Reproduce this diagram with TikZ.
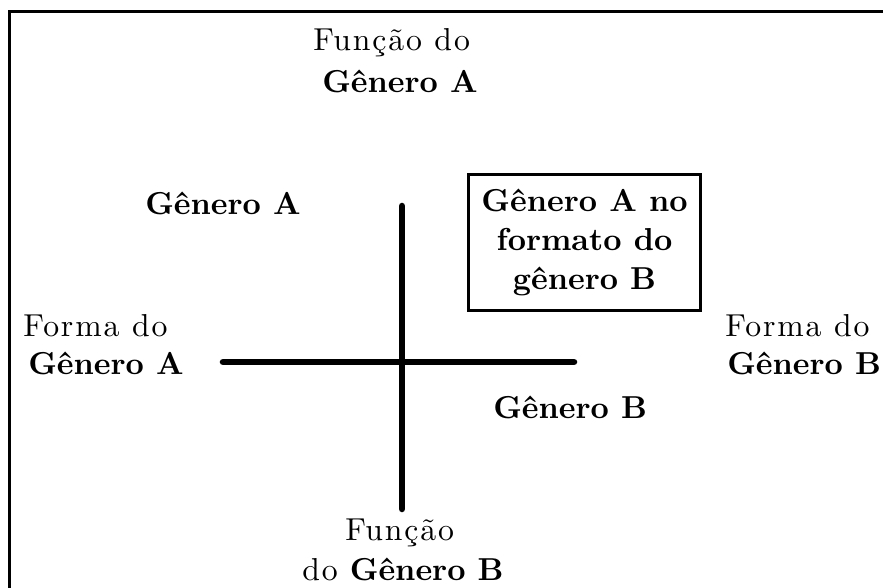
\documentclass[tikz,border=0pt]{standalone}
\usepackage{fontspec}
\setmainfont{lmroman10-regular.otf}[BoldFont=lmroman10-bold.otf]
\newfontfamily\regfont{lmroman10-regular.otf}[LetterSpace=6]
\begin{document}
\begin{tikzpicture}[x=0.75pt,y=-0.75pt,
  reg/.style={font=\regfont\fontsize{23.8}{29}\selectfont, inner sep=0pt, anchor=base west},
  bld/.style={font=\bfseries\fontsize{23.8}{29}\selectfont, inner sep=0pt, anchor=base west},
  axis/.style={line width=4.9pt, line cap=round},
  framebox/.style={draw, line width=2.25pt, minimum width=174pt, minimum height=102pt,
    inner sep=0pt, align=center, font=\bfseries\fontsize{23.8}{29}\selectfont}]
\useasboundingbox (0,0) rectangle (883,588);
\clip (0,0) rectangle (883,588);
\fill[white] (0,0) rectangle (883,588);
\draw[line width=2.25pt] (9.5,11.5) rectangle (1000,700);
% axes
\coordinate (hl) at (223,362);
\coordinate (hr) at (574,362);
\coordinate (vt) at (402,206);
\coordinate (vb) at (402,509);
\draw[axis] (hl) -- (hr);
\draw[axis] (vt) -- (vb);
% texts
\node[reg] (fa1) at (313,50.5) {Função do};
\node[bld] (fa2) at (322,93) {Gênero A};
\node[bld] (ga) at (145,215) {Gênero A};
\node[reg] (fol1) at (23,337) {Forma do};
\node[bld] (fol2) at (28,375) {Gênero A};
\node[reg] (for1) at (725,337) {Forma do};
\node[bld] (for2) at (727,375) {Gênero B};
\node[bld] (gb) at (493,418) {Gênero B};
\node[reg] (fb1) at (345,540) {Função};
\node[bld] (fb2) at (302,580) {{\regfont\mdseries do} Gênero B};
% box
\node[framebox] (box) at (584.5,242.5) {Gênero A no\\formato do\\gênero B};
\end{tikzpicture}
\end{document}
